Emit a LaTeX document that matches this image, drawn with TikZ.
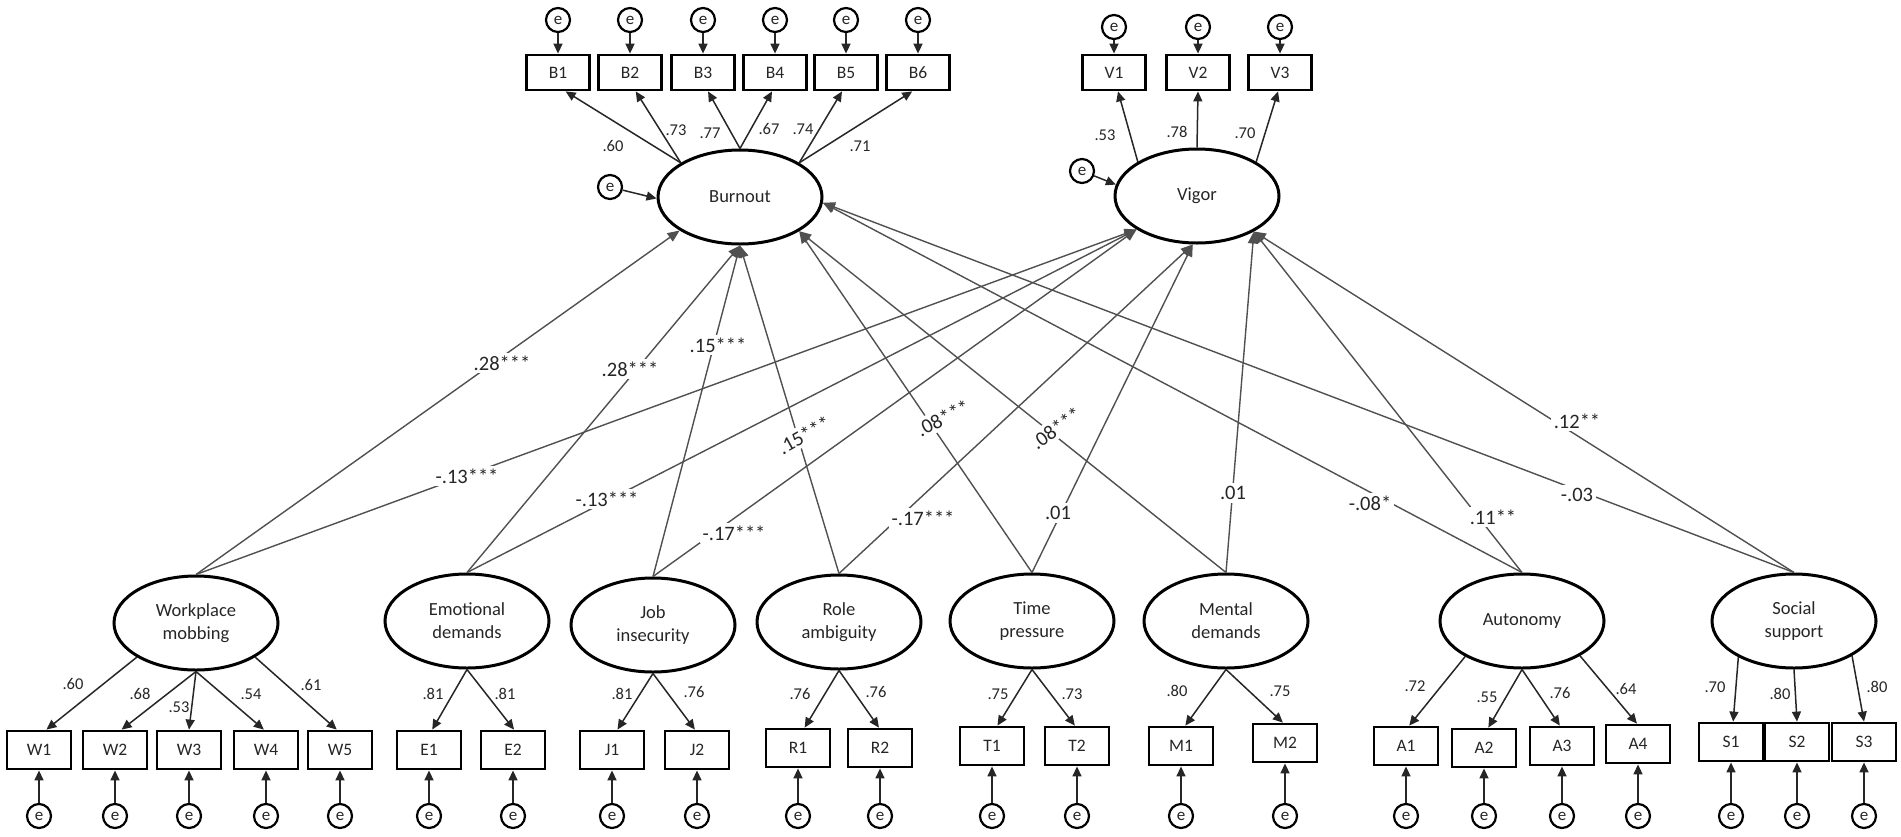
\documentclass[tikz,border=0pt]{standalone}
\usepackage{fontspec}
\setmainfont{Carlito}
\usetikzlibrary{arrows.meta,shapes.geometric}
\definecolor{lnc}{HTML}{505050}
\definecolor{txc}{HTML}{262626}
\tikzset{
  lat/.style={ellipse, draw=black, line width=1.5pt, minimum width=82pt, minimum height=47pt, inner sep=0pt, align=center, text=txc, font=\fontsize{9.25}{11.5}\selectfont},
  obs/.style={rectangle, draw=black, line width=1.4pt, minimum width=32pt, minimum height=19pt, inner sep=0pt, text=txc, font=\fontsize{8.75}{10}\selectfont},
  obst/.style={obs, minimum width=31.5pt, minimum height=17.5pt},
  errc/.style={circle, draw=black, line width=1.1pt, minimum size=12pt, inner sep=0pt, text=txc, font=\fontsize{8.5}{9}\selectfont},
  ldarr/.style={draw=black!85, line width=0.75pt, -{Triangle[length=5pt,width=4.5pt]}},
  sparr/.style={draw=lnc, line width=0.7pt, -{Triangle[length=6pt,width=5pt]}},
  slab/.style={fill=white, inner sep=1.5pt, text=txc, font=\fontsize{10.25}{12}\selectfont},
  llab/.style={inner sep=0pt, text=txc, font=\fontsize{8.25}{10}\selectfont},
}
\begin{document}
\begin{tikzpicture}[x=0.5pt,y=-0.5pt]
\useasboundingbox (0,0) rectangle (1901,836);

% latent variables
\node[lat] (Bur) at (740,197) {Burnout};
\node[lat] (Vig) at (1197,196) {Vigor};
\node[lat] (WM) at (196,623) {Workplace\\mobbing};
\node[lat] (ED) at (467,621) {Emotional\\demands};
\node[lat] (JI) at (653,625) {Job\\insecurity};
\node[lat] (RA) at (839,622) {Role\\ambiguity};
\node[lat] (TP) at (1032,621) {Time\\pressure};
\node[lat] (MD) at (1226,621) {Mental\\demands};
\node[lat] (AU) at (1522,621) {Autonomy};
\node[lat] (SS) at (1794,621) {Social\\support};

% top indicators
\foreach \n/\x in {B1/558,B2/630,B3/703,B4/775,B5/846,B6/918}{
  \node[obst] (\n) at (\x,72.5) {\n};
  \node[errc] (e\n) at (\x,20) {e};
  \draw[ldarr] (e\n) -- (\n);
}
\foreach \n/\x in {V1/1114,V2/1198,V3/1280}{
  \node[obst] (\n) at (\x,72.5) {\n};
  \node[errc] (e\n) at (\x,27) {e};
  \draw[ldarr] (e\n) -- (\n);
}
\node[errc] (eBur) at (610,187) {e};
\node[errc] (eVig) at (1082,171) {e};
\draw[ldarr] (eBur) -- (Bur.181);
\draw[ldarr] (eVig) -- (Vig.172);

% bottom indicators
\foreach \n/\x/\y in {W1/39/750,W2/115/750,W3/189/750,W4/266/750,W5/340/750,
  E1/429/750,E2/513/750,J1/612/750,J2/697/750,R1/798/748,R2/880/748,
  T1/992/746,T2/1077/746,M1/1181/746,M2/1285/743,
  A1/1406/746,A2/1484/748,A3/1562/746,A4/1638/744,
  S1/1731/742,S2/1797/742,S3/1864/742}{
  \node[obs] (\n) at (\x,\y) {\n};
  \node[errc] (e\n) at (\x,816) {e};
  \draw[ldarr] (e\n) -- (\n);
}

% loadings
\draw[ldarr] (Bur.150) -- (B1.292);
\draw[ldarr] (Bur.150) -- (B2.287);
\draw[ldarr] (Bur.90) -- (B3.285);
\draw[ldarr] (Bur.90) -- (B4.261);
\draw[ldarr] (Bur.30) -- (B5.258);
\draw[ldarr] (Bur.30) -- (B6.253);
\draw[ldarr] (Vig.150) -- (V1.282);
\draw[ldarr] (Vig.90) -- (V2.south);
\draw[ldarr] (Vig.30) -- (V3.264);

\draw[ldarr] (WM.210) -- (W1.70);
\draw[ldarr] (WM.270) -- (W2.72);
\draw[ldarr] (WM.270) -- (W3.north);
\draw[ldarr] (WM.270) -- (W4.96);
\draw[ldarr] (WM.330) -- (W5.99);
\draw[ldarr] (ED.270) -- (E1.81);
\draw[ldarr] (ED.270) -- (E2.87);
\draw[ldarr] (JI.270) -- (J1.75);
\draw[ldarr] (JI.270) -- (J2.96);
\draw[ldarr] (RA.270) -- (R1.72);
\draw[ldarr] (RA.270) -- (R2.93);
\draw[ldarr] (TP.270) -- (T1.75);
\draw[ldarr] (TP.270) -- (T2.96);
\draw[ldarr] (MD.270) -- (M1.78);
\draw[ldarr] (MD.270) -- (M2.96);
\draw[ldarr] (AU.212) -- (A1.81);
\draw[ldarr] (AU.270) -- (A2.78);
\draw[ldarr] (AU.270) -- (A3.96);
\draw[ldarr] (AU.329) -- (A4.93);
\draw[ldarr] (SS.213) -- (S1.84);
\draw[ldarr] (SS.270) -- (S2.north);
\draw[ldarr] (SS.329) -- (S3.north);

% loading labels
\node[llab] (lb1) at (613,146) {.60};
\node[llab] (lb2) at (676,130) {.73};
\node[llab] (lb3) at (710,133) {.77};
\node[llab] (lb4) at (769,129) {.67};
\node[llab] (lb5) at (803,129) {.74};
\node[llab] (lb6) at (860,146) {.71};
\node[llab] (lv1) at (1105,135) {.53};
\node[llab] (lv2) at (1177,132) {.78};
\node[llab] (lv3) at (1245,133) {.70};
\node[llab] (lw1) at (73,684) {.60};
\node[llab] (lw2) at (140,694) {.68};
\node[llab] (lw3) at (179,707) {.53};
\node[llab] (lw4) at (251,694) {.54};
\node[llab] (lw5) at (311,685) {.61};
\node[llab] (le1) at (433,694) {.81};
\node[llab] (le2) at (505,694) {.81};
\node[llab] (lj1) at (622,694) {.81};
\node[llab] (lj2) at (694,692) {.76};
\node[llab] (lr1) at (800,694) {.76};
\node[llab] (lr2) at (876,692) {.76};
\node[llab] (lt1) at (998,694) {.75};
\node[llab] (lt2) at (1072,694) {.73};
\node[llab] (lm1) at (1177,691) {.80};
\node[llab] (lm2) at (1280,691) {.75};
\node[llab] (la1) at (1415,686) {.72};
\node[llab] (la2) at (1487,697) {.55};
\node[llab] (la3) at (1560,693) {.76};
\node[llab] (la4) at (1626,689) {.64};
\node[llab] (ls1) at (1715,687) {.70};
\node[llab] (ls2) at (1780,694) {.80};
\node[llab] (ls3) at (1877,687) {.80};

% structural paths
\draw[sparr] (WM.north) -- (Bur.209);
\draw[sparr] (WM.north) -- (Vig.209);
\draw[sparr] (ED.north) -- (Bur.270);
\draw[sparr] (ED.north) -- (Vig.209);
\draw[sparr] (JI.north) -- (Bur.270);
\draw[sparr] (JI.north) -- (Vig.209);
\draw[sparr] (RA.north) -- (Bur.270);
\draw[sparr] (RA.north) -- (Vig.265);
\draw[sparr] (TP.north) -- (Bur.330);
\draw[sparr] (TP.north) -- (Vig.265);
\draw[sparr] (MD.north) -- (Bur.330);
\draw[sparr] (MD.north) -- (Vig.328);
\draw[sparr] (AU.north) -- (Bur.356);
\draw[sparr] (AU.north) -- (Vig.328);
\draw[sparr] (SS.north) -- (Bur.356);
\draw[sparr] (SS.north) -- (Vig.328);

% structural labels
\node[slab] (p1) at (502,363) {.28***};
\node[slab] (p2) at (467,476) {-.13***};
\node[slab] (p3) at (630,369) {.28***};
\node[slab] (p4) at (607,499) {-.13***};
\node[slab] (p5) at (718,345) {.15***};
\node[slab] (p6) at (734,533) {-.17***};
\node[slab, rotate=29] (p7) at (804,435) {.15***};
\node[slab] (p8) at (923,518) {-.17***};
\node[slab, rotate=27] (p9) at (943,418) {.08***};
\node[slab] (p10) at (1058,513) {.01};
\node[slab, rotate=36] (p11) at (1056,428) {.08***};
\node[slab] (p12) at (1233,493) {.01};
\node[slab] (p13) at (1370,503) {-.08*};
\node[slab] (p14) at (1493,517) {.11**};
\node[slab] (p15) at (1577,495) {-.03};
\node[slab] (p16) at (1577,421) {.12**};
\end{tikzpicture}
\end{document}
